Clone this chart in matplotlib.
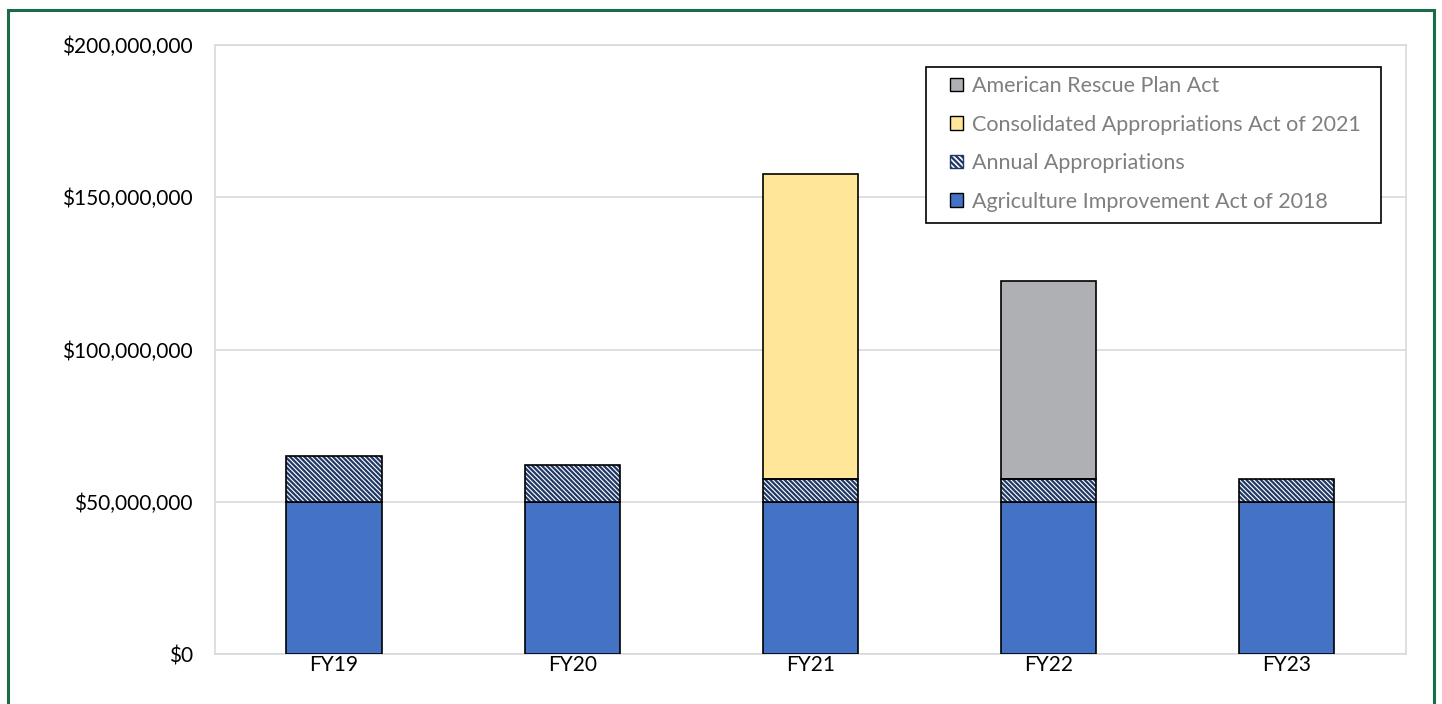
import matplotlib
matplotlib.use('Agg')
import matplotlib.pyplot as plt
from matplotlib.patches import Rectangle, Patch
from matplotlib.ticker import FuncFormatter
import numpy as np

years = ['FY19', 'FY20', 'FY21', 'FY22', 'FY23']
farm_bill = [50_000_000, 50_000_000, 50_000_000, 50_000_000, 50_000_000]
annual = [15_000_000, 12_000_000, 7_500_000, 7_500_000, 7_500_000]
caa_2021 = [0, 0, 100_000_000, 0, 0]
arpa = [0, 0, 0, 65_000_000, 0]

blue = '#4472c4'
yellow = '#ffe699'
grey = '#aeb0b3'
navy = '#1f3864'

plt.rcParams['font.family'] = ['Lato', 'DejaVu Sans']
plt.rcParams['hatch.linewidth'] = 1.6

fig = plt.figure(figsize=(14.42, 7.04), dpi=100)
ax = fig.add_axes([0.1491, 0.071, 0.8259, 0.865])

x = np.arange(len(years))
w = 0.4
farm_bill = np.array(farm_bill)
annual = np.array(annual)
caa_2021 = np.array(caa_2021)
arpa = np.array(arpa)
hatch = '\\' * 7

ax.bar(x, farm_bill, w, color=blue, edgecolor='black', linewidth=1.2, zorder=3)
# hatch drawn in navy, then black outline on top
ax.bar(x, annual, w, bottom=farm_bill, color='white', edgecolor=navy,
       hatch=hatch, linewidth=0, zorder=3)
ax.bar(x, annual, w, bottom=farm_bill, fill=False, edgecolor='black',
       linewidth=1.2, zorder=4)
b2 = farm_bill + annual
m = caa_2021 > 0
ax.bar(x[m], caa_2021[m], w, bottom=b2[m], color=yellow, edgecolor='black',
       linewidth=1.2, zorder=3)
m = arpa > 0
ax.bar(x[m], arpa[m], w, bottom=b2[m], color=grey, edgecolor='black',
       linewidth=1.2, zorder=3)

ax.set_ylim(0, 200_000_000)
ax.set_xlim(-0.5, len(years) - 0.5)
ax.set_yticks(np.arange(0, 200_000_001, 50_000_000))
ax.yaxis.set_major_formatter(FuncFormatter(lambda v, p: f'${v:,.0f}'))
ax.set_xticks(x)
ax.set_xticklabels(years)
ax.tick_params(length=0, labelsize=15, colors='black')
ax.tick_params(axis='x', pad=0.5)
ax.tick_params(axis='y', pad=16)
ax.grid(axis='y', color='#d9d9d9', linewidth=1.2, zorder=0)
for s in ax.spines.values():
    s.set_color('#d9d9d9')
    s.set_linewidth(1.2)

handles = [
    Patch(facecolor=grey, edgecolor='black', label='American Rescue Plan Act'),
    Patch(facecolor=yellow, edgecolor='black', label='Consolidated Appropriations Act of 2021'),
    Patch(facecolor='white', edgecolor=navy, hatch='\\' * 6, label='Annual Appropriations'),
    Patch(facecolor=blue, edgecolor='black', label='Agriculture Improvement Act of 2018'),
]
W, H = 1442, 704
leg = ax.legend(handles=handles, loc='upper left',
                bbox_to_anchor=(950 / W, 1 - 76 / H), bbox_transform=fig.transFigure,
                fontsize=15.5, frameon=False, handlelength=0.6,
                handleheight=0.6, handletextpad=0.4, labelspacing=0.86,
                borderpad=0, borderaxespad=0)
for t in leg.get_texts():
    t.set_color('#7f7f7f')
leg.set_zorder(6)
# legend box drawn by hand, Excel-style padding
ax.add_patch(Rectangle((926 / W, 1 - 223 / H), (1381 - 926) / W, (223 - 67) / H,
                       transform=fig.transFigure, facecolor='white',
                       edgecolor='black', linewidth=1.2, zorder=5))

fig.patches.append(Rectangle((8 / W, -0.02), 1426 / W, 1.02 - 10 / H,
                             transform=fig.transFigure, fill=False,
                             edgecolor='#1a6b47', linewidth=2.2))

fig.savefig('out.png', dpi=100)
